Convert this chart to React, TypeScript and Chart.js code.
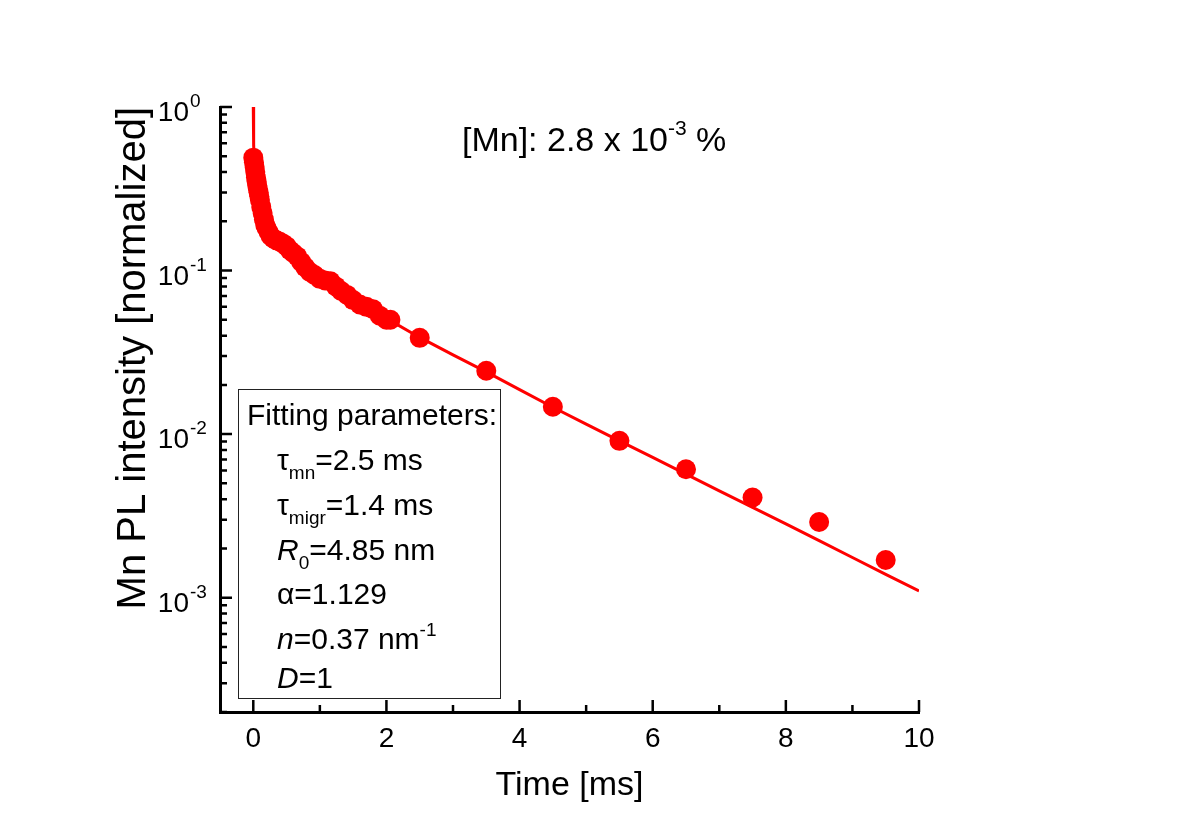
import React, { useEffect, useRef } from 'react';
import { Chart, registerables } from 'chart.js';

Chart.register(...registerables);

// ---- Measured Mn PL decay (time in ms, normalized intensity) ----
const measuredTime = [
  0, 0.01, 0.02, 0.03, 0.04, 0.05, 0.06, 0.07, 0.08, 0.09, 0.1, 0.12, 0.14, 0.16, 0.18, 0.2,
  0.23, 0.26, 0.3, 0.35, 0.4, 0.45, 0.5, 0.55, 0.6, 0.66, 0.72, 0.78, 0.85, 0.92, 1.0, 1.08,
  1.16, 1.24, 1.32, 1.41, 1.5, 1.6, 1.7, 1.8, 1.9, 2.0, 2.06,
  2.5, 3.5, 4.5, 5.5, 6.5, 7.5, 8.5, 9.5,
];
const measuredIntensity = [
  0.49, 0.46, 0.43, 0.4, 0.37, 0.35, 0.33, 0.315, 0.3, 0.285, 0.27, 0.245, 0.225, 0.205, 0.19, 0.182,
  0.172, 0.163, 0.157, 0.153, 0.15, 0.146, 0.141, 0.133, 0.128, 0.122, 0.113, 0.105, 0.098, 0.094, 0.089, 0.087,
  0.086, 0.08, 0.075, 0.071, 0.066, 0.062, 0.06, 0.058, 0.053, 0.05, 0.05,
  0.0388, 0.0244, 0.0147, 0.0091, 0.0061, 0.0041, 0.0029, 0.0017,
];

// ---- Fit curve ----
const fitTime = [
  0, 0.003, 0.008, 0.02, 0.04, 0.07, 0.1, 0.15, 0.2, 0.3, 0.45, 0.6, 0.8, 1.0, 1.25, 1.5, 1.75, 2.0,
  2.5, 3.0, 3.5, 4.0, 4.5, 5.0, 5.5, 6.0, 6.5, 7.0, 7.5, 8.0, 8.5, 9.0, 9.5, 10.0,
];
const fitIntensity = [
  1.0, 0.75, 0.58, 0.46, 0.38, 0.31, 0.27, 0.215, 0.185, 0.16, 0.145, 0.128, 0.105, 0.091, 0.08, 0.068, 0.059, 0.051,
  0.039, 0.0305, 0.024, 0.0187, 0.0146, 0.0115, 0.0091, 0.0072, 0.0057, 0.0045, 0.00357, 0.00283, 0.00223, 0.00176, 0.00139, 0.0011,
];

// ---- Axes ----
const xTickValues = [0, 1, 2, 3, 4, 5, 6, 7, 8, 9, 10];
const xTickLabels = ['0', '', '2', '', '4', '', '6', '', '8', '', '10'];
const yDecades = [1e-4, 1e-3, 1e-2, 1e-1, 1];
const yMantissas = [1, 2, 3, 4, 5, 6, 7, 8, 9];
const yDecadeBase = ['10', '10', '10', '10', '10'];
const yDecadeExp = ['-4', '-3', '-2', '-1', '0'];
const xMin = -0.5;
const xMax = 10;
const yMin = 2e-4;
const yMax = 1;

const xTitle = 'Time [ms]';
const yTitle = 'Mn PL intensity [normalized]';

const RED = 'rgb(255,0,0)';
const FONT = "'Liberation Sans', Arial, sans-serif";

type Seg = { t: string; size: number; italic?: boolean; dy?: number };

function drawRich(ctx: CanvasRenderingContext2D, x: number, y: number, segs: Seg[]) {
  let cx = x;
  for (const s of segs) {
    ctx.font = `${s.italic ? 'italic ' : ''}${s.size}px ${FONT}`;
    ctx.fillText(s.t, cx, y + (s.dy || 0));
    cx += ctx.measureText(s.t).width;
  }
}

const yTickValues: number[] = [];
yDecades.forEach((d) => yMantissas.forEach((m) => {
  const v = d * m;
  if (v >= yMin * 0.999 && v <= yMax * 1.001) yTickValues.push(v);
}));

function decadeIndex(v: number): number {
  const l = Math.log10(v);
  if (Math.abs(l - Math.round(l)) < 1e-6) return yDecades.findIndex((d) => Math.abs(Math.log10(d) - l) < 1e-6);
  return -1;
}

const tickPlugin = {
  id: 'innerTicks',
  afterDraw(chart: any) {
    const ctx: CanvasRenderingContext2D = chart.ctx;
    const xs = chart.scales.x;
    const ys = chart.scales.y;
    const area = chart.chartArea;
    ctx.save();
    ctx.strokeStyle = '#000';
    ctx.lineWidth = 2.5;
    ctx.beginPath();
    xTickValues.forEach((v, i) => {
      const px = xs.getPixelForValue(v);
      const len = xTickLabels[i] ? 12 : 7;
      ctx.moveTo(px, area.bottom);
      ctx.lineTo(px, area.bottom - len);
    });
    yTickValues.forEach((v) => {
      const py = ys.getPixelForValue(v);
      const len = decadeIndex(v) >= 0 ? 12 : 7;
      ctx.moveTo(area.left, py);
      ctx.lineTo(area.left + len, py);
    });
    ctx.stroke();

    // y decade labels with superscripts
    ctx.fillStyle = '#000';
    ctx.textBaseline = 'alphabetic';
    yTickValues.forEach((v) => {
      const di = decadeIndex(v);
      if (di < 0) return;
      const py = ys.getPixelForValue(v);
      ctx.font = `28px ${FONT}`;
      ctx.textAlign = 'right';
      ctx.fillText(yDecadeBase[di], 189, py + 14);
      ctx.font = `19px ${FONT}`;
      ctx.textAlign = 'left';
      ctx.fillText(yDecadeExp[di], 190, py);
    });

    // annotation
    ctx.textAlign = 'left';
    drawRich(ctx, 462, 151, [
      { t: '[Mn]: 2.8 x 10', size: 34 },
      { t: '-3', size: 21, dy: -16 },
      { t: ' %', size: 34 },
    ]);

    // fitting parameters box
    ctx.lineWidth = 1;
    ctx.strokeStyle = '#222';
    ctx.strokeRect(238.5, 389.5, 262, 309);
    drawRich(ctx, 247, 425, [{ t: 'Fitting parameters:', size: 30 }]);
    const lx = 277;
    drawRich(ctx, lx, 470, [
      { t: '\u03C4', size: 30 },
      { t: 'mn', size: 19, dy: 9 },
      { t: '=2.5 ms', size: 30 },
    ]);
    drawRich(ctx, lx, 515, [
      { t: '\u03C4', size: 30 },
      { t: 'migr', size: 19, dy: 9 },
      { t: '=1.4 ms', size: 30 },
    ]);
    drawRich(ctx, lx, 560, [
      { t: 'R', size: 30, italic: true },
      { t: '0', size: 19, dy: 9 },
      { t: '=4.85 nm', size: 30 },
    ]);
    drawRich(ctx, lx, 604, [
      { t: '\u03B1', size: 30 },
      { t: '=1.129', size: 30 },
    ]);
    drawRich(ctx, lx, 649, [
      { t: 'n', size: 30, italic: true },
      { t: '=0.37 nm', size: 30 },
      { t: '-1', size: 19, dy: -13 },
    ]);
    drawRich(ctx, lx, 688, [
      { t: 'D', size: 30, italic: true },
      { t: '=1', size: 30 },
    ]);
    ctx.restore();
  },
};

export default function App() {
  const ref = useRef<HTMLCanvasElement | null>(null);
  useEffect(() => {
    if (!ref.current) return;
    const measured = measuredTime.map((t, i) => ({ x: t, y: measuredIntensity[i] }));
    const fit = fitTime.map((t, i) => ({ x: t, y: fitIntensity[i] }));
    const chart = new Chart(ref.current, {
      type: 'scatter',
      data: {
        datasets: [
          {
            label: 'fit',
            data: fit,
            showLine: true,
            borderColor: RED,
            borderWidth: 3,
            pointRadius: 0,
            tension: 0,
          },
          {
            label: 'data',
            data: measured,
            showLine: false,
            pointRadius: 10,
            pointBackgroundColor: RED,
            pointBorderColor: RED,
            pointBorderWidth: 0,
          },
        ],
      },
      plugins: [tickPlugin],
      options: {
        responsive: false,
        maintainAspectRatio: false,
        animation: false,
        layout: { padding: { left: 0, top: 107, right: 281, bottom: 0 } },
        plugins: { legend: { display: false }, tooltip: { enabled: false } },
        scales: {
          x: {
            type: 'linear',
            min: xMin,
            max: xMax,
            afterBuildTicks: (s: any) => { s.ticks = xTickValues.map((v) => ({ value: v })); },
            afterFit: (s: any) => { s.height = 127; },
            grid: { display: false, drawTicks: false },
            border: { display: true, color: '#000', width: 3 },
            ticks: {
              autoSkip: false,
              maxRotation: 0,
              padding: 10,
              color: '#000',
              font: { family: FONT, size: 28 },
              callback: (v: any) => {
                const i = xTickValues.indexOf(Number(v));
                return i >= 0 ? xTickLabels[i] : '';
              },
            },
            title: {
              display: true,
              text: xTitle,
              color: '#000',
              font: { family: FONT, size: 34 },
              padding: { top: 0, bottom: 33 },
            },
          },
          y: {
            type: 'logarithmic',
            min: yMin,
            max: yMax,
            afterBuildTicks: (s: any) => { s.ticks = yTickValues.map((v) => ({ value: v })); },
            afterFit: (s: any) => { s.width = 220; },
            grid: { display: false, drawTicks: false },
            border: { display: true, color: '#000', width: 3 },
            ticks: { display: false },
            title: {
              display: true,
              text: yTitle,
              align: 'end',
              color: '#000',
              font: { family: FONT, size: 40 },
              padding: { top: 110, bottom: 0 },
            },
          },
        },
      },
    } as any);
    return () => chart.destroy();
  }, []);
  return (
    <div style={{ position: 'absolute', left: 0, top: 0, width: 1200, height: 839, background: '#fff' }}>
      <canvas ref={ref} width={1200} height={839} style={{ width: 1200, height: 839 }} />
    </div>
  );
}
